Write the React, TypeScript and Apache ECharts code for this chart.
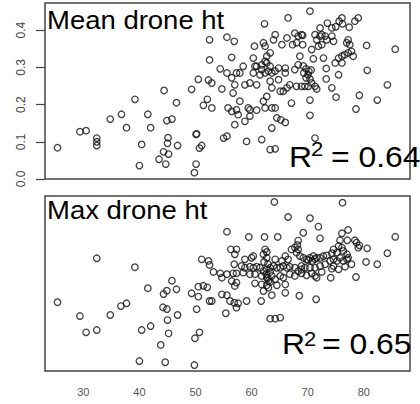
import React, { useEffect, useRef } from "react";
import * as echarts from "echarts";

const xTickLabels = [30, 40, 50, 60, 70, 80];
const yTickLabels = [0, 0.1, 0.2, 0.3, 0.4];
const topTitle = "Mean drone ht";
const bottomTitle = "Max drone ht";
const topR2 = "= 0.64";
const bottomR2 = "= 0.65";

// [age-like x, mean drone height]
const meanHt: number[][] = [
  [25.4,0.084],[29.4,0.127],[30.5,0.130],[32.4,0.110],[32.4,0.100],[32.4,0.090],[34.8,0.161],[36.8,0.174],[37.7,0.138],[39.2,0.214],[40.4,0.093],[40.0,0.036],[41.5,0.174],[42.0,0.138],[44.4,0.238],[44.9,0.157],[45.8,0.161],[45.1,0.111],[45.0,0.096],[44.3,0.073],[45.2,0.067],[43.5,0.053],[44.7,0.040],[46.8,0.090],[46.6,0.205],[49.3,0.241],[50.5,0.268],[50.1,0.120],[50.2,0.121],[50.7,0.083],[51.1,0.090],[50.1,0.040],[49.8,0.017],[51.4,0.198],[52.1,0.214],[52.5,0.374],[52.5,0.320],[52.3,0.266],
  [66.5,0.433],[62.3,0.417],[55.6,0.381],[56.9,0.370],[56.45,0.327],[60.5,0.357],[62.1,0.366],[62.4,0.357],[64.2,0.388],[63.9,0.374],[65.4,0.361],[66.3,0.379],[67.7,0.392],[68.3,0.384],[68.9,0.388],[67.3,0.361],[68.0,0.366],[60.3,0.325],[62.7,0.330],[63.3,0.339],[58.5,0.303],[54.4,0.296],[55.6,0.285],[56.45,0.272],[57.3,0.285],[57.9,0.285],[60.6,0.303],[60.9,0.303],[61.8,0.307],[62.4,0.316],[62.7,0.312],[63.3,0.303],[61.8,0.294],[62.4,0.285],[63.0,0.290],[63.6,0.285],[64.2,0.290],[60.3,0.285],[61.5,0.280],[64.8,0.298],[66.0,0.298],[66.0,0.285],[67.7,0.294],[68.3,0.307],[68.6,0.330],
  [52.9,0.258],[54.7,0.242],[57.0,0.253],[56.7,0.231],[58.8,0.253],[59.7,0.258],[60.9,0.253],[63.3,0.263],[63.6,0.245],[64.8,0.267],[65.65,0.236],[66.3,0.245],[66.8,0.253],[68.0,0.249],[68.9,0.249],[52.9,0.191],[57.9,0.209],[62.7,0.222],[62.1,0.209],[65.1,0.236],[67.1,0.204],[55.8,0.191],[56.45,0.182],[57.3,0.186],[57.6,0.173],[59.4,0.191],[59.7,0.186],[60.9,0.185],[62.4,0.191],[63.6,0.191],[64.2,0.191],[59.7,0.169],[58.8,0.155],[64.5,0.164],[65.2,0.159],[66.0,0.152],[57.0,0.146],[63.6,0.137],[55.0,0.110],[55.6,0.115],[59.1,0.101],[61.8,0.106],[63.3,0.079],[64.2,0.081],
  [70.4,0.451],[73.5,0.419],[74.3,0.406],[75.0,0.409],[75.6,0.424],[76.1,0.433],[76.2,0.417],[77.4,0.408],[78.4,0.424],[79.0,0.433],[72.2,0.406],[69.1,0.386],[69.1,0.361],[71.3,0.388],[71.6,0.374],[72.2,0.384],[72.5,0.388],[73.1,0.384],[73.4,0.374],[74.3,0.384],[74.6,0.370],[71.9,0.357],[72.5,0.361],[70.7,0.348],[77.2,0.374],[76.95,0.366],[77.5,0.361],[80.5,0.359],[85.6,0.349],[77.8,0.343],[77.2,0.339],[76.6,0.334],[76.1,0.330],[75.5,0.325],[74.9,0.312],[76.1,0.312],[78.1,0.330],[72.8,0.325],[71.0,0.323],
  [69.2,0.304],[69.7,0.296],[70.2,0.290],[69.3,0.285],[70.05,0.280],[70.6,0.293],[69.7,0.272],[70.4,0.269],[73.3,0.297],[75.5,0.280],[80.6,0.292],[73.3,0.269],[70.7,0.258],[71.3,0.249],[71.6,0.242],[70.1,0.249],[69.5,0.249],[74.3,0.245],[84.2,0.253],[70.4,0.212],[75.05,0.220],[79.2,0.225],[82.4,0.212],[78.6,0.188],[70.4,0.171],[71.3,0.110]
];

// [age-like x, max drone height (unlabelled, relative scale)]
const maxHt: number[][] = [
  [25.4,0.393],[32.4,0.644],[39.2,0.593],[29.4,0.314],[30.5,0.221],[32.4,0.234],[34.8,0.320],[36.7,0.371],[37.7,0.387],[41.5,0.473],[45.8,0.516],[44.3,0.440],[44.9,0.459],[46.6,0.467],[44.2,0.364],[44.9,0.354],[46.8,0.320],[45.0,0.291],[40.4,0.234],[42.0,0.257],[45.2,0.215],[43.8,0.149],[40.0,0.057],[44.6,0.050],[49.8,0.034],[49.3,0.444],[50.5,0.425],[50.5,0.482],[51.4,0.487],[52.1,0.478],[51.1,0.638],[52.3,0.629],[52.5,0.606],[50.2,0.353],[50.7,0.221],[49.9,0.187],[52.5,0.400],
  [64.05,0.966],[66.5,0.880],[55.6,0.796],[59.5,0.766],[62.3,0.766],[64.65,0.766],[56.3,0.695],[57.3,0.695],[57.0,0.667],[58.8,0.638],[60.0,0.647],[60.3,0.657],[62.4,0.695],[62.1,0.667],[62.7,0.680],[62.7,0.647],[64.2,0.638],[65.4,0.629],[66.0,0.657],[66.5,0.638],[67.1,0.695],[67.7,0.705],[68.3,0.695],[68.0,0.676],[56.9,0.610],[53.2,0.566],[54.4,0.558],[54.7,0.533],[55.6,0.553],[56.7,0.558],[57.3,0.558],[58.2,0.600],[58.8,0.590],[59.7,0.596],[60.3,0.590],[60.9,0.596],[61.5,0.590],[62.1,0.571],[62.7,0.581],[63.3,0.590],[63.9,0.600],[64.5,0.590],[65.1,0.590],[65.65,0.600],[66.3,0.590],[66.8,0.596],[67.7,0.590],[68.3,0.571],[68.9,0.581],[58.5,0.562],[59.7,0.553],[60.6,0.553],[61.8,0.543],[62.7,0.533],[63.0,0.514],[63.6,0.543],[64.2,0.524],[65.1,0.543],[65.65,0.533],[66.8,0.553],[67.7,0.543],[56.45,0.514],[57.3,0.505],[57.0,0.486],[60.6,0.501],[61.8,0.495],[62.7,0.490],[63.3,0.509],[64.5,0.490],[66.0,0.495],[54.7,0.438],[55.6,0.433],[56.15,0.400],[56.9,0.390],[57.6,0.387],[57.3,0.362],[59.1,0.400],[61.7,0.400],[63.6,0.433],[66.0,0.447],[62.1,0.457],[63.0,0.476],[52.9,0.400],[55.4,0.330],[63.3,0.299],[64.2,0.299],[65.1,0.305],
  [76.2,0.962],[70.4,0.873],[71.9,0.825],[69.2,0.790],[72.2,0.758],[76.1,0.787],[77.2,0.806],[75.75,0.747],[77.05,0.747],[78.4,0.747],[78.7,0.733],[79.2,0.718],[79.0,0.705],[80.6,0.701],[85.6,0.767],[84.2,0.673],[75.5,0.714],[74.6,0.695],[76.1,0.705],[76.35,0.686],[75.2,0.676],[77.0,0.667],[77.2,0.647],[74.3,0.673],[73.4,0.661],[72.8,0.657],[72.2,0.647],[71.6,0.647],[71.0,0.657],[70.4,0.647],[69.8,0.638],[69.2,0.647],[68.6,0.657],[70.05,0.634],[70.8,0.629],[71.3,0.640],[68.9,0.600],[69.5,0.590],[70.4,0.590],[71.3,0.590],[72.2,0.600],[73.1,0.610],[74.0,0.629],[74.6,0.638],[75.2,0.629],[75.75,0.647],[76.35,0.629],[77.0,0.638],[74.6,0.600],[74.3,0.585],[75.5,0.581],[76.65,0.596],[77.8,0.610],[80.4,0.623],[82.4,0.610],[68.9,0.558],[69.8,0.547],[70.7,0.558],[71.3,0.543],[71.6,0.533],[72.5,0.566],[74.1,0.533],[78.6,0.537],[68.5,0.430],[71.5,0.410],[68.3,0.745],[68.15,0.720],[62.2,0.623],[62.9,0.611],[62.6,0.554],[63.3,0.566],[62.9,0.531]
];

const X_MIN = 23.17;
const X_MAX = 88.23;

export default function App() {
  const ref = useRef<HTMLDivElement>(null);
  useEffect(() => {
    if (!ref.current) return;
    const chart = echarts.init(ref.current, null, { renderer: "svg" });
    const font = "'Liberation Sans', Arial, sans-serif";
    const pointStyle = {
      color: "rgba(0,0,0,0)",
      borderColor: "#111",
      borderWidth: 1.3,
    };
    chart.setOption({
      animation: false,
      backgroundColor: "#fff",
      grid: [
        { left: 45, top: 3, width: 365, height: 176, show: true, borderColor: "#444", borderWidth: 1.5, backgroundColor: "transparent" },
        { left: 45, top: 196, width: 365, height: 175, show: true, borderColor: "#444", borderWidth: 1.5, backgroundColor: "transparent" },
      ],
      xAxis: [
        { gridIndex: 0, type: "value", min: X_MIN, max: X_MAX, axisLabel: { show: false }, axisTick: { show: false }, axisLine: { show: false }, splitLine: { show: false } },
        {
          gridIndex: 1, type: "value", min: X_MIN, max: X_MAX,
          axisLabel: { customValues: xTickLabels, color: "#555", fontSize: 11, margin: 15, fontFamily: font },
          axisTick: { show: false }, axisLine: { show: false }, splitLine: { show: false },
        },
      ],
      yAxis: [
        {
          gridIndex: 0, type: "value", min: 0, max: 0.473,
          axisLabel: { customValues: yTickLabels, rotate: 90, color: "#444", fontSize: 12, margin: 18, fontFamily: font, formatter: (v: number) => v.toFixed(1) },
          axisTick: { show: true, customValues: yTickLabels, length: 9, lineStyle: { color: "#444", width: 1.2 } },
          axisLine: { show: false }, splitLine: { show: false },
        },
        { gridIndex: 1, type: "value", min: 0, max: 1, show: false, splitLine: { show: false } },
      ],
      series: [
        { type: "scatter", xAxisIndex: 0, yAxisIndex: 0, data: meanHt, symbol: "circle", symbolSize: 6.5, itemStyle: pointStyle },
        { type: "scatter", xAxisIndex: 1, yAxisIndex: 1, data: maxHt, symbol: "circle", symbolSize: 6.5, itemStyle: pointStyle },
      ],
      graphic: [
        { type: "text", x: 47, y: 20, scaleX: 1.1, style: { text: topTitle, fontSize: 25, fontFamily: font, fill: "#000", verticalAlign: "middle" } },
        { type: "text", x: 47, y: 210.5, scaleX: 1.1, style: { text: bottomTitle, fontSize: 25, fontFamily: font, fill: "#000", verticalAlign: "middle" } },
        { type: "text", x: 289, y: 156.4, scaleX: 1.1, style: { text: "R", fontSize: 29, fontFamily: font, fill: "#000", verticalAlign: "middle" } },
        { type: "text", x: 311, y: 149, scaleX: 1.1, style: { text: "2", fontSize: 20, fontFamily: font, fill: "#000", verticalAlign: "middle" } },
        { type: "text", x: 331, y: 156.4, scaleX: 1.1, style: { text: topR2, fontSize: 29, fontFamily: font, fill: "#000", verticalAlign: "middle" } },
        { type: "text", x: 282, y: 344, scaleX: 1.1, style: { text: "R", fontSize: 29, fontFamily: font, fill: "#000", verticalAlign: "middle" } },
        { type: "text", x: 304, y: 339, scaleX: 1.1, style: { text: "2", fontSize: 20, fontFamily: font, fill: "#000", verticalAlign: "middle" } },
        { type: "text", x: 322, y: 344, scaleX: 1.1, style: { text: bottomR2, fontSize: 29, fontFamily: font, fill: "#000", verticalAlign: "middle" } },
      ],
    });
    return () => chart.dispose();
  }, []);
  return <div ref={ref} style={{ position: "fixed", left: 0, top: 0, width: 420, height: 404, background: "#fff" }} />;
}
